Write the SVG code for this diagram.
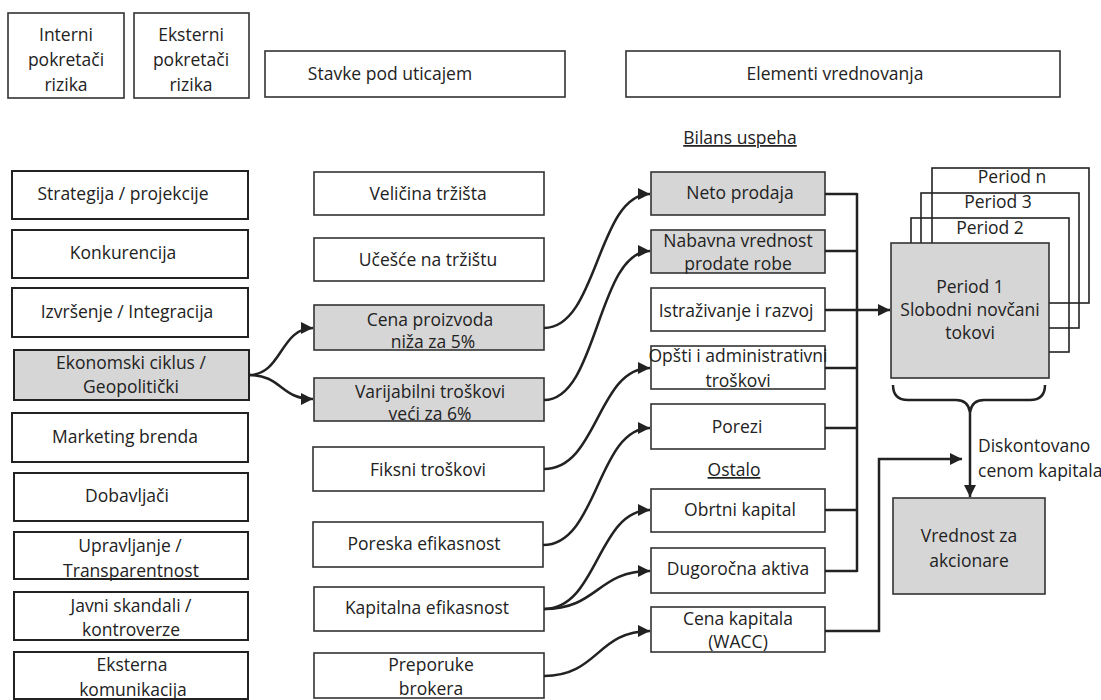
<svg xmlns="http://www.w3.org/2000/svg" width="1101" height="700" viewBox="0 0 1101 700">
  <style>
    text { font-family: "Open Sans", "Noto Sans", "DejaVu Sans", sans-serif; font-size: 17.5px; fill: #222; text-anchor: middle; }
    .box { fill: #fff; stroke: #333; stroke-width: 1.6; }
    .lbox { fill: #fff; stroke: #222; stroke-width: 2; }
    .gray { fill: #d6d6d6; }
    .frame { fill: none; stroke: #222; stroke-width: 1.6; }
    .conn { fill: none; stroke: #222; stroke-width: 2.5; }
    .arr { marker-end: url(#head); }
    .ul { text-decoration: underline; }
    .left { text-anchor: start; }
  </style>
  <defs>
    <marker id="head" markerUnits="userSpaceOnUse" markerWidth="13" markerHeight="12" refX="12" refY="6" orient="auto">
      <path d="M0,0 L12,6 L0,12 z" fill="#222"/>
    </marker>
  </defs>
  <rect width="1101" height="700" fill="#fff"/>

  <!-- column headers -->
  <g id="hdr-interni">
    <rect class="box" x="8" y="13" width="116" height="85"/>
    <text x="66" y="41">Interni</text>
    <text x="66" y="66">pokretači</text>
    <text x="66" y="91">rizika</text>
  </g>
  <g id="hdr-eksterni">
    <rect class="box" x="134" y="13" width="115" height="85"/>
    <text x="191" y="41">Eksterni</text>
    <text x="191" y="66">pokretači</text>
    <text x="191" y="91">rizika</text>
  </g>
  <g id="hdr-stavke">
    <rect class="box" x="265" y="51" width="300" height="46"/>
    <text x="390" y="80">Stavke pod uticajem</text>
  </g>
  <g id="hdr-elementi">
    <rect class="box" x="626" y="51" width="434" height="46"/>
    <text x="835" y="80">Elementi vrednovanja</text>
  </g>

  <!-- risk drivers -->
  <g id="n-strategija"><rect class="lbox" x="12" y="171" width="236" height="48"/><text x="123" y="200">Strategija / projekcije</text></g>
  <g id="n-konkurencija"><rect class="lbox" x="12" y="230" width="236" height="48"/><text x="123" y="259">Konkurencija</text></g>
  <g id="n-izvrsenje"><rect class="lbox" x="12" y="288" width="236" height="49"/><text x="127" y="318">Izvršenje / Integracija</text></g>
  <g id="n-ekonomski"><rect class="lbox gray" x="14" y="350" width="235" height="50"/><text x="131" y="369">Ekonomski ciklus /</text><text x="131" y="393">Geopolitički</text></g>
  <g id="n-marketing"><rect class="lbox" x="12" y="413" width="236" height="49"/><text x="125" y="443">Marketing brenda</text></g>
  <g id="n-dobavljaci"><rect class="lbox" x="14" y="473" width="234" height="48"/><text x="127" y="502">Dobavljači</text></g>
  <g id="n-upravljanje"><rect class="lbox" x="14" y="532" width="234" height="47"/><text x="130" y="552">Upravljanje /</text><text x="131" y="577">Transparentnost</text></g>
  <g id="n-javni"><rect class="lbox" x="14" y="592" width="234" height="48"/><text x="131" y="612">Javni skandali /</text><text x="131" y="636">kontroverze</text></g>
  <g id="n-eksterna"><rect class="lbox" x="14" y="652" width="234" height="47"/><text x="132" y="671">Eksterna</text><text x="133" y="696">komunikacija</text></g>

  <!-- affected items -->
  <g id="n-velicina"><rect class="box" x="314" y="172" width="230" height="43"/><text x="428" y="200">Veličina tržišta</text></g>
  <g id="n-ucesce"><rect class="box" x="314" y="238" width="230" height="43"/><text x="428" y="266">Učešće na tržištu</text></g>
  <g id="n-cena"><rect class="box gray" x="314" y="305" width="230" height="45"/><text x="430" y="326">Cena proizvoda</text><text x="433" y="348">niža za 5%</text></g>
  <g id="n-varijabilni"><rect class="box gray" x="314" y="378" width="230" height="43"/><text x="430" y="398">Varijabilni troškovi</text><text x="430" y="420">veći za 6%</text></g>
  <g id="n-fiksni"><rect class="box" x="313" y="447" width="231" height="44"/><text x="428" y="476">Fiksni troškovi</text></g>
  <g id="n-poreska"><rect class="box" x="313" y="522" width="230" height="45"/><text x="424" y="550">Poreska efikasnost</text></g>
  <g id="n-kapitalna"><rect class="box" x="314" y="587" width="230" height="44"/><text x="427" y="614">Kapitalna efikasnost</text></g>
  <g id="n-preporuke"><rect class="box" x="314" y="653" width="230" height="45"/><text x="431" y="671">Preporuke</text><text x="431" y="695">brokera</text></g>

  <!-- valuation elements -->
  <text class="ul" x="740" y="144">Bilans uspeha</text>
  <text class="ul" x="734" y="476">Ostalo</text>
  <g id="n-neto"><rect class="box gray" x="651" y="172" width="174" height="43"/><text x="740" y="199">Neto prodaja</text></g>
  <g id="n-nabavna"><rect class="box gray" x="651" y="230" width="174" height="43"/><text x="738" y="247">Nabavna vrednost</text><text x="738" y="270">prodate robe</text></g>
  <g id="n-istrazivanje"><rect class="box" x="651" y="288" width="174" height="43"/><text x="736" y="317">Istraživanje i razvoj</text></g>
  <g id="n-opsti"><rect class="box" x="651" y="346" width="174" height="43"/><text x="738" y="362">Opšti i administrativni</text><text x="738" y="387">troškovi</text></g>
  <g id="n-porezi"><rect class="box" x="651" y="404" width="174" height="45"/><text x="737" y="433">Porezi</text></g>
  <g id="n-obrtni"><rect class="box" x="651" y="489" width="174" height="43"/><text x="740" y="516">Obrtni kapital</text></g>
  <g id="n-dugorocna"><rect class="box" x="651" y="548" width="174" height="45"/><text x="738" y="575">Dugoročna aktiva</text></g>
  <g id="n-wacc"><rect class="box" x="651" y="607" width="174" height="45"/><text x="738" y="625">Cena kapitala</text><text x="738" y="648">(WACC)</text></g>

  <!-- free cash flow periods, stacked -->
  <g id="n-periods">
    <rect class="frame" x="932" y="168" width="157" height="135"/>
    <rect class="frame" x="921" y="193" width="158" height="135"/>
    <rect class="frame" x="911" y="218" width="158" height="134"/>
    <text x="1012" y="183">Period n</text>
    <text x="998" y="208">Period 3</text>
    <text x="990" y="234">Period 2</text>
    <rect class="box gray" x="891" y="243" width="158" height="135"/>
    <text x="970" y="293">Period 1</text>
    <text x="970" y="316">Slobodni novčani</text>
    <text x="970" y="339">tokovi</text>
  </g>

  <g id="n-vrednost">
    <rect class="box gray" x="893" y="498" width="152" height="96"/>
    <text x="969" y="542">Vrednost za</text>
    <text x="969" y="567">akcionare</text>
  </g>

  <g id="lbl-diskont">
    <text class="left" x="978" y="452">Diskontovano</text>
    <text class="left" x="978" y="477">cenom kapitala</text>
  </g>

  <!-- connectors -->
  <g id="connectors">
    <!-- economic cycle drives price and variable costs -->
    <path class="conn arr" d="M249,375 C282,375 280,328 313,328"/>
    <path class="conn arr" d="M249,375 C282,375 280,399 313,399"/>

    <!-- affected items into income statement / other -->
    <path class="conn arr" d="M544,328 C598,328 597,194 650,194"/>
    <path class="conn arr" d="M544,400 C598,400 597,251 650,251"/>
    <path class="conn arr" d="M544,469 C598,469 597,368 650,368"/>
    <path class="conn arr" d="M543,545 C598,545 597,428 650,428"/>
    <path class="conn arr" d="M544,609 C598,609 597,510 650,510"/>
    <path class="conn arr" d="M544,609 C598,609 597,571 650,571"/>
    <path class="conn arr" d="M544,676 C598,676 597,631 650,631"/>

    <!-- collector bus into the period stack -->
    <path class="conn" d="M825,194 H857 M825,251 H857 M825,368 H857 M825,428 H857 M825,510 H857 M825,571 H857 M857,193 V572"/>
    <path class="conn arr" d="M825,310 H890"/>

    <!-- cost of capital -->
    <path class="conn arr" d="M825,631 H879 V459 H962"/>

    <!-- brace under periods and discounting arrow -->
    <path class="conn" stroke-width="2" d="M893,385 Q893,400 908,400 L956,400 Q968,400 970,412 Q972,400 984,400 L1030,400 Q1045,400 1045,385"/>
    <path class="conn arr" d="M970,411 V497"/>
  </g>
</svg>
